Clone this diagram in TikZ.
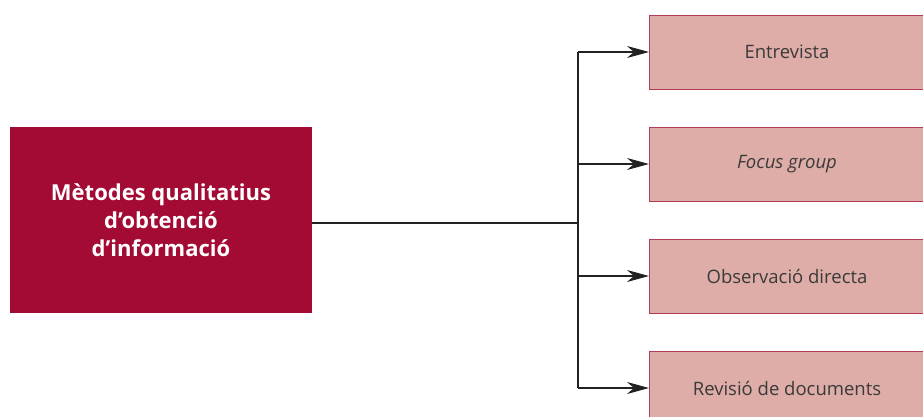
\documentclass[tikz,border=0pt]{standalone}
\usepackage{fontspec}
\setmainfont{Open Sans}
\usepackage{xcolor}
\usepackage{tikz}
\usetikzlibrary{arrows.meta, positioning, calc}
\definecolor{mqwine}{HTML}{A30B35}
\definecolor{mqrose}{HTML}{DFADA8}
\definecolor{mqedge}{HTML}{B53A55}
\definecolor{mqtext}{HTML}{3A3A3A}
\definecolor{mqline}{HTML}{222222}

\begin{document}
\begin{tikzpicture}[
  x=1pt, y=-1pt,
  mainbox/.style={rectangle, fill=mqwine, text=white, minimum width=302pt, minimum height=186pt, align=center, font=\fontsize{22}{28}\selectfont\bfseries},
  methodbox/.style={rectangle, draw=mqedge, line width=1pt, outer sep=0pt, fill=mqrose, text=mqtext, minimum width=276pt, minimum height=74pt, font=\fontsize{18.5}{22}\selectfont},
  arrow/.style={-{Stealth[length=22pt, width=12pt, inset=7pt]}, line width=1.1pt, color=mqline}
]
  \clip (0,0) rectangle (923,416);

  % Main block
  \node[mainbox] (main) at (161,220) {Mètodes qualitatius\\d’obtenció\\d’informació};

  % Methods
  \node[methodbox, anchor=north west] (entre) at (649,15) {Entrevista};
  \node[methodbox, below=38pt of entre] (focus) {\itshape Focus group};
  \node[methodbox, below=38pt of focus] (obser) {Observació directa};
  \node[methodbox, below=38pt of obser] (revis) {Revisió de documents};

  % Branch point
  \coordinate (split) at (578,223);

  % Arrows
  \draw[line width=1.1pt, mqline] (main.east |- split) -- (split);
  \draw[line width=1.1pt, mqline] (split |- entre.west) -- (split |- revis.west);
  \draw[arrow] (split |- entre.west) -- (entre.west);
  \draw[arrow] (split |- focus.west) -- (focus.west);
  \draw[arrow] (split |- obser.west) -- (obser.west);
  \draw[arrow] (split |- revis.west) -- (revis.west);
\end{tikzpicture}
\end{document}
